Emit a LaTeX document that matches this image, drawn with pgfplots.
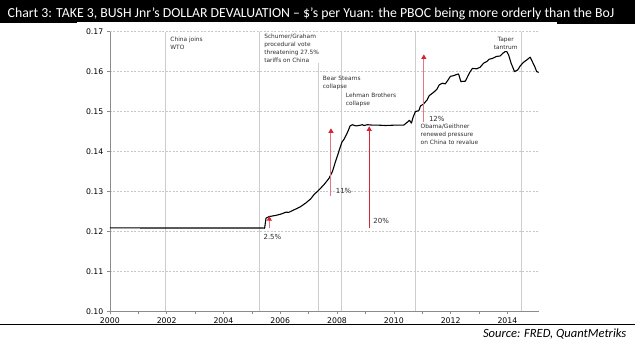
\documentclass[border=0pt]{standalone}
\usepackage{pgfplots}
\pgfplotsset{compat=1.18}
\usepackage{pgfplotstable}
\usepackage{fontspec}
\setmainfont{Carlito}
\newfontfamily\dejavu{DejaVu Sans}
\usetikzlibrary{arrows.meta}
\definecolor{evgray}{RGB}{205,205,205}
\definecolor{gridgray}{RGB}{200,200,200}
\definecolor{axgray}{RGB}{140,140,140}
\definecolor{arr}{RGB}{215,35,50}
\definecolor{arrl}{RGB}{228,120,130}
\definecolor{anno}{RGB}{45,45,45}

\pgfplotstableread{
year val
2000.00 0.12085
2001.00 0.12085
2002.00 0.12083
2003.00 0.12083
2004.00 0.12083
2005.00 0.12083
2005.40 0.12083
2005.45 0.12078
2005.50 0.12330
2005.61 0.12370
2005.85 0.12400
2006.02 0.12430
2006.20 0.12480
2006.30 0.12475
2006.37 0.12500
2006.55 0.12560
2006.72 0.12620
2006.90 0.12710
2007.07 0.12810
2007.19 0.12920
2007.25 0.12960
2007.37 0.13040
2007.54 0.13170
2007.72 0.13330
2007.84 0.13500
2007.93 0.13710
2008.01 0.13880
2008.10 0.14080
2008.17 0.14230
2008.25 0.14310
2008.33 0.14420
2008.40 0.14530
2008.46 0.14640
2008.54 0.14670
2008.66 0.14640
2008.77 0.14650
2008.89 0.14670
2008.95 0.14650
2009.07 0.14670
2009.24 0.14660
2009.42 0.14660
2009.71 0.14650
2010.06 0.14660
2010.35 0.14660
2010.47 0.14730
2010.55 0.14780
2010.62 0.14710
2010.68 0.14860
2010.76 0.15000
2010.88 0.15020
2010.94 0.15140
2011.05 0.15190
2011.17 0.15290
2011.25 0.15400
2011.40 0.15480
2011.52 0.15560
2011.60 0.15670
2011.72 0.15710
2011.81 0.15690
2011.91 0.15790
2011.99 0.15880
2012.11 0.15900
2012.22 0.15930
2012.28 0.15940
2012.36 0.15750
2012.52 0.15760
2012.60 0.15880
2012.69 0.16000
2012.77 0.16080
2012.92 0.16070
2013.04 0.16110
2013.16 0.16210
2013.27 0.16250
2013.36 0.16310
2013.47 0.16330
2013.62 0.16380
2013.74 0.16390
2013.84 0.16460
2013.92 0.16500
2013.98 0.16500
2014.04 0.16420
2014.13 0.16210
2014.25 0.16000
2014.36 0.16040
2014.45 0.16140
2014.56 0.16230
2014.68 0.16290
2014.80 0.16360
2014.85 0.16290
2014.97 0.16110
2015.03 0.16000
2015.10 0.15980
}\fxdata

\begin{document}
\begin{tikzpicture}
\begin{scope}[x=1bp,y=1bp]
\path[use as bounding box] (0,0) rectangle (635,351);
\fill[black] (0,329) rectangle (635,351);
\fill[black] (0,328) rectangle (77,329.5);
\fill[black] (557,327) rectangle (635,329.5);
\node[anchor=base west, text=white, font=\fontsize{13.85}{16}\selectfont, inner sep=0] at (7,333.3)
  {Chart 3: TAKE 3, BUSH Jnr’s DOLLAR DEVALUATION – \$’s per Yuan: the PBOC being more orderly than the BoJ};
\end{scope}

\begin{axis}[
  at={(109.5bp,39.3bp)}, anchor=south west,
  scale only axis, width=429.5bp, height=280bp,
  xmin=2000, xmax=2015.1, ymin=0.10, ymax=0.17,
  axis x line=bottom, axis y line=left,
  axis line style={-, draw=axgray, line width=0.6bp},
  xtick={2000,2002,2004,2006,2008,2010,2012,2014},
  minor x tick num=1,
  ytick={0.10,0.11,0.12,0.13,0.14,0.15,0.16,0.17},
  tick align=outside, major tick length=3bp, minor tick length=2.5bp,
  every tick/.style={axgray, line width=0.5bp},
  ymajorgrids, grid style={dash pattern=on 2bp off 1.5bp, gridgray, line width=0.4bp},
  /pgf/number format/assume math mode=true,
  ticklabel style={font=\dejavu\fontsize{7.8}{9}\selectfont, text=black},
  xticklabel style={/pgf/number format/1000 sep={}},
  yticklabel style={/pgf/number format/.cd, fixed, fixed zerofill, precision=2},
  clip=false,
]
\draw[evgray, line width=1.3bp] (axis cs:2001.95,0.10) -- (axis cs:2001.95,0.17);
\draw[evgray, line width=1.3bp] (axis cs:2005.26,0.10) -- (axis cs:2005.26,0.17);
\draw[evgray, line width=1.3bp] (axis cs:2007.34,0.10) -- (axis cs:2007.34,0.16225);
\draw[evgray, line width=1.3bp] (axis cs:2008.16,0.10) -- (axis cs:2008.16,0.17);
\draw[evgray, line width=1.3bp] (axis cs:2010.76,0.10) -- (axis cs:2010.76,0.17);
\draw[evgray, line width=1.3bp] (axis cs:2014.50,0.10) -- (axis cs:2014.50,0.17);
\addplot[black, line width=1.1bp, line join=round] table[x=year, y=val] {\fxdata};
\end{axis}

\begin{scope}[x=1bp,y=1bp]
% arrows
\draw[arrl, line width=1bp, -{Triangle[width=5bp,length=4.5bp,color=arr]}] (269.3,123) -- (269.3,134.5);
\draw[arrl, line width=1bp, -{Triangle[width=5bp,length=4.5bp,color=arr]}] (331,155) -- (331,222.5);
\draw[arr, line width=0.9bp, -{Triangle[width=5bp,length=4.5bp,color=arr]}] (369.3,122.3) -- (369.3,224.5);
\draw[arrl, line width=1bp, -{Triangle[width=5bp,length=4.5bp,color=arr]}] (424,229.3) -- (424,296.5);

% annotations
\tikzset{ann/.style={anchor=north west, inner sep=0, align=left, text=anno,
  font=\dejavu\fontsize{5.9}{8}\selectfont}}
\node[ann] at (170,314.3) {China joins\\WTO};
\node[ann] at (264,317) {Schumer/Graham\\procedural vote\\threatening 27.5\%\\tariffs on China};
\node[ann] at (322.7,275.3) {Bear Stearns\\collapse};
\node[ann] at (345.7,258.3) {Lehman Brothers\\collapse};
\node[ann] at (420.7,227.3) {Obama/Geithner\\renewed pressure\\on China to revalue};
\node[ann, anchor=north, align=center] at (506,314.3) {Taper\\tantrum};
\tikzset{pct/.style={anchor=north west, inner sep=0, text=anno,
  font=\dejavu\fontsize{7}{8}\selectfont}}
\node[pct] at (429,234.3) {12\%};
\node[pct] at (335.7,163) {11\%};
\node[pct] at (373.3,132.3) {20\%};
\node[pct] at (263.3,117) {2.5\%};

\draw[black, line width=1bp] (0,25.7) -- (635,25.7);
\node[anchor=east, inner sep=0, font=\itshape\fontsize{12.6}{14}\selectfont] at (627,16.5)
  {Source: FRED, QuantMetriks};
\end{scope}
\end{tikzpicture}
\end{document}
